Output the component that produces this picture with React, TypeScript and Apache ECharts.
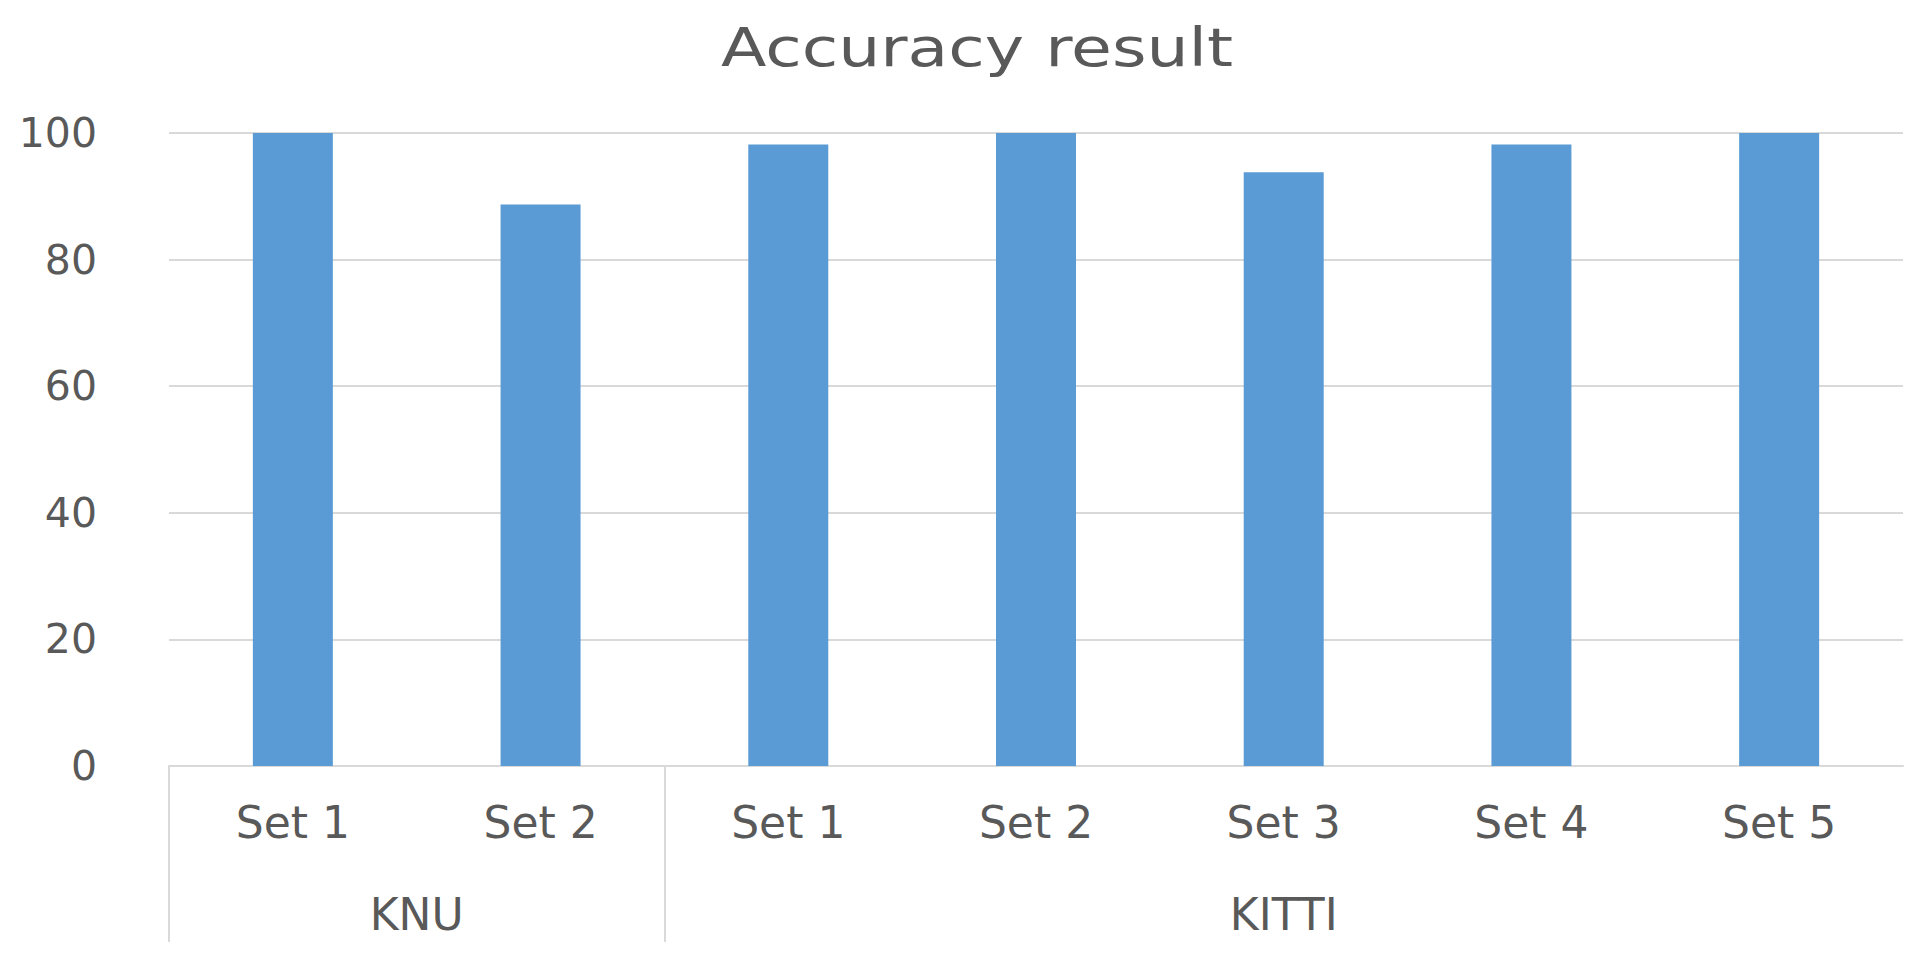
import React, { useEffect, useRef } from "react";
import * as echarts from "echarts";

const titleText = "Accuracy result";
const setLabels = ["Set 1", "Set 2", "Set 1", "Set 2", "Set 3", "Set 4", "Set 5"];
const accuracy = [100, 88.7, 98.2, 100, 93.8, 98.2, 100];
const groupNames = ["KNU", "KITTI"];
const groupSizes = [2, 5];
const yTicks = { min: 0, max: 100, interval: 20 };

const FONT = "DejaVu Sans";
const TEXT = "#595959";
const GRID = "#d9d9d9";
const BAR = "#5B9BD5";

export default function App() {
  const ref = useRef<HTMLDivElement>(null);
  useEffect(() => {
    document.body.style.margin = "0";
    if (!ref.current) return;
    const chart = echarts.init(ref.current, undefined, { renderer: "svg" });

    const boundaries: number[] = [0];
    const centers: number[] = [];
    let acc = 0;
    groupSizes.forEach((s) => {
      centers.push(acc + s / 2);
      acc += s;
      boundaries.push(acc);
    });
    const separators = boundaries.slice(0, boundaries.length - 1);

    chart.setOption({
      animation: false,
      backgroundColor: "#ffffff",
      graphic: [
        {
          type: "text",
          x: chart.getWidth() / 2 + 11,
          y: 47,
          scaleX: 1.23,
          style: {
            text: titleText,
            fill: TEXT,
            font: `normal 54px "${FONT}"`,
            align: "center",
            verticalAlign: "middle",
          },
        },
      ],
      grid: { left: 169, right: 29, top: 133, bottom: 195, containLabel: false },
      xAxis: [
        {
          type: "category",
          data: setLabels,
          position: "bottom",
          axisLine: { show: true, lineStyle: { color: GRID, width: 2 } },
          axisTick: { show: false },
          axisLabel: { color: TEXT, fontFamily: FONT, fontSize: 44, margin: 34, interval: 0 },
          splitLine: { show: false },
        },
        {
          type: "value",
          min: 0,
          max: acc,
          position: "bottom",
          axisLine: { show: false },
          splitLine: { show: false },
          axisTick: {
            show: true,
            customValues: separators,
            length: 176,
            lineStyle: { color: GRID, width: 2 },
          },
          axisLabel: {
            show: true,
            customValues: centers,
            color: TEXT,
            fontFamily: FONT,
            fontSize: 44,
            margin: 126,
            formatter: (v: number) => {
              const i = centers.findIndex((c) => Math.abs(c - v) < 1e-6);
              return i >= 0 ? groupNames[i] : "";
            },
          },
        },
      ],
      yAxis: {
        type: "value",
        min: yTicks.min,
        max: yTicks.max,
        interval: yTicks.interval,
        axisLine: { show: false },
        axisTick: { show: false },
        axisLabel: { color: TEXT, fontFamily: FONT, fontSize: 41, margin: 72 },
        splitLine: { show: true, lineStyle: { color: GRID, width: 2 } },
      },
      series: [
        {
          type: "bar",
          xAxisIndex: 0,
          data: accuracy,
          barWidth: 80,
          itemStyle: { color: BAR },
        },
      ],
    });
    return () => chart.dispose();
  }, []);
  return <div ref={ref} style={{ width: 1932, height: 961 }} />;
}
